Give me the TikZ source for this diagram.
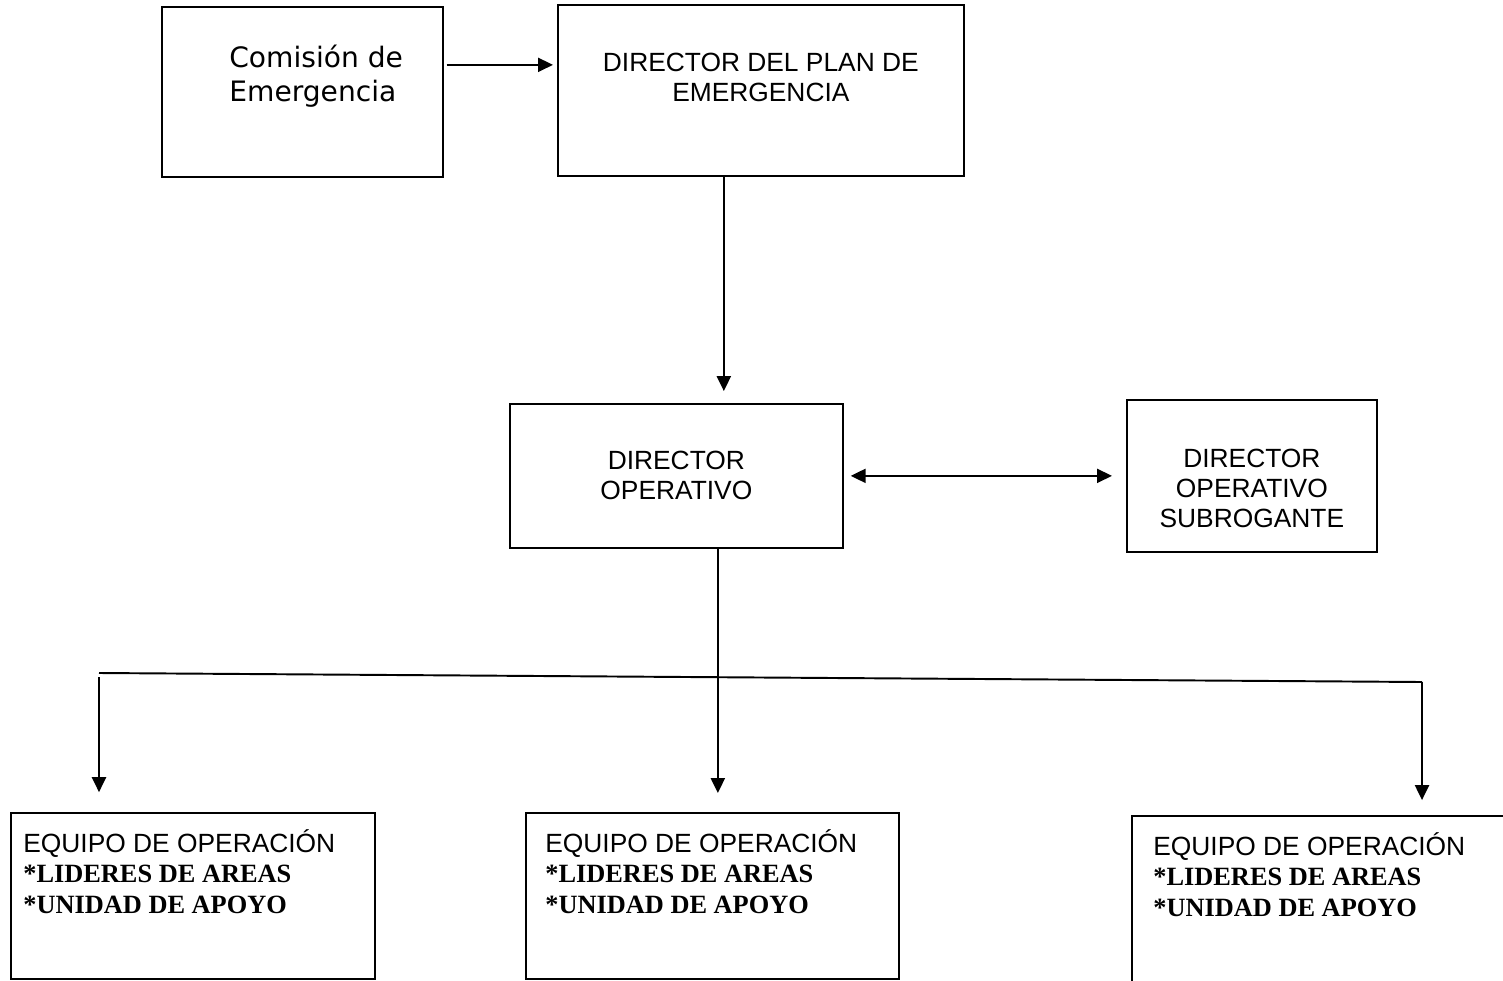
\documentclass[tikz,border=0pt]{standalone}
\usepackage{fontspec}
\setmainfont{Liberation Sans}
\newfontfamily\serifface{Liberation Serif}
\newfontfamily\comfont{DejaVu Sans}
\usetikzlibrary{arrows.meta, positioning, calc}

\begin{document}
\begin{tikzpicture}[
        x=0.02cm, y=-0.02cm, % one unit = one pixel of the page
        >={Triangle[length=8.5pt,width=8pt]},
        box/.style={draw, line width=1pt, anchor=north west, inner sep=0pt},
        boxtext/.style={font=\fontsize{15}{17}\selectfont, align=center, inner sep=0pt, anchor=base},
        teamtext/.style={font=\fontsize{15}{17.3}\selectfont, align=left, inner sep=0pt, anchor=base west},
        arr/.style={->, line width=1.1pt},
    ]

    % Page frame
    \useasboundingbox (0,0) rectangle (1503,980);

    % --- BOXES ---
    \node[box, minimum width=5.62cm, minimum height=3.4cm] (comision) at (161,6) {};
    \node[box, minimum width=8.12cm, minimum height=3.42cm] (plan) at (557,4) {};
    \node[box, minimum width=6.66cm, minimum height=2.88cm] (operativo) at (509,403) {};
    \node[box, minimum width=5.0cm, minimum height=3.04cm] (subrogante) at (1126,399) {};
    \node[box, minimum width=7.28cm, minimum height=3.32cm] (equipoA) at (10,812) {};
    \node[box, minimum width=7.46cm, minimum height=3.32cm] (equipoB) at (525,812) {};
    \node[box, minimum width=8.0cm, minimum height=3.5cm] (equipoC) at (1131,815) {};

    % --- TEXTS (base = last line) ---
    \node[font=\comfont\fontsize{16}{19.6}\selectfont, align=left, inner sep=0pt, anchor=base west]
        (comisiontext) at ([shift={(68,96)}]comision.north west) {Comisión de\\Emergencia};
    \node[boxtext] (plantext) at ([shift={(0,97)}]plan.north) {DIRECTOR DEL PLAN DE\\EMERGENCIA};
    \node[boxtext] (operativotext) at ([shift={(0,96)}]operativo.north) {DIRECTOR\\OPERATIVO};
    \node[boxtext] (subrogantetext) at ([shift={(0,128)}]subrogante.north)
        {DIRECTOR\\OPERATIVO\\SUBROGANTE};

    \foreach \eq/\dx/\dy in {equipoA/13/101, equipoB/20/101, equipoC/22/101}{
        \node[teamtext] (\eq text) at ([shift={(\dx,\dy)}]\eq.north west)
            {EQUIPO DE OPERACIÓN\\{\serifface\bfseries *LIDERES DE AREAS}\\{\serifface\bfseries *UNIDAD DE APOYO}};
    }

    % --- CONNECTORS ---
    \coordinate (c1) at ([shift={(0,-27)}]comision.east);
    \draw[arr, shorten <=1.7pt, shorten >=2.3pt] (c1) -- (c1 -| plan.west);

    \coordinate (c2) at ([shift={(-37,0)}]plan.south);
    \draw[arr, shorten >=6.8pt] (c2) -- (c2 |- operativo.north);

    \draw[<->, line width=1.1pt, shorten <=4pt, shorten >=8pt]
        (operativo.east) -- (operativo.east -| subrogante.west);

    % Branch to the operation teams
    \coordinate (ramaizq) at (99,673);
    \coordinate (ramader) at (1422,682);
    \draw[line width=1.1pt] (ramaizq) -- (ramader);

    \coordinate (c3) at ([shift={(41.5,0)}]operativo.south);
    \draw[arr, shorten >=10.8pt] (c3) -- (c3 |- equipoB.north);
    \draw[arr, shorten <=2.3pt, shorten >=11.3pt] (ramaizq) -- (ramaizq |- equipoA.north);
    \draw[arr, shorten >=8.5pt] (ramader) -- (ramader |- equipoC.north);

\end{tikzpicture}
\end{document}
